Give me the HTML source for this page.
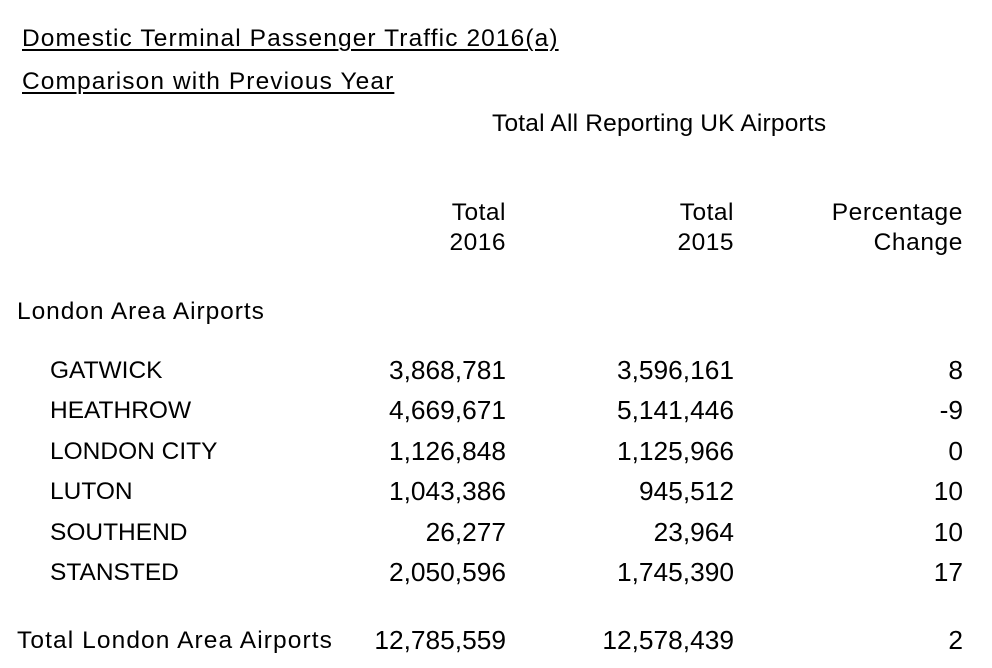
<!DOCTYPE html>
<html><head><meta charset="utf-8">
<style>
html,body{margin:0;padding:0;background:#fff;}
body{width:992px;height:668px;position:relative;overflow:hidden;font-family:"Liberation Sans",Arial,sans-serif;color:#000;font-size:24.5px;}
.t{position:absolute;line-height:30px;white-space:nowrap;}
.u{text-decoration:underline;text-decoration-thickness:1.5px;text-underline-offset:3px;}
.n{position:absolute;line-height:30px;white-space:nowrap;text-align:right;font-size:26.3px;}
.c1{right:486px}.c2{right:258px}.c3{right:29px}
</style></head><body>
<div class="t u" style="left:22px;top:24px;letter-spacing:1.1px">Domestic Terminal Passenger Traffic 2016(a)</div>
<div class="t u" style="left:22px;top:67px;letter-spacing:1.1px">Comparison with Previous Year</div>
<div class="t" style="left:492px;top:109px;letter-spacing:0.2px">Total All Reporting UK Airports</div>

<div class="t c1" style="top:198px;text-align:right;letter-spacing:0.5px">Total<br>2016</div>
<div class="t c2" style="top:198px;text-align:right;letter-spacing:0.5px">Total<br>2015</div>
<div class="t c3" style="top:198px;text-align:right;letter-spacing:0.6px">Percentage<br>Change</div>

<div class="t" style="left:17px;top:297px;letter-spacing:0.95px">London Area Airports</div>

<div class="t" style="left:50px;top:356px">GATWICK</div>
<div class="n c1" style="top:355px">3,868,781</div>
<div class="n c2" style="top:355px">3,596,161</div>
<div class="n c3" style="top:355px">8</div>

<div class="t" style="left:50px;top:396px">HEATHROW</div>
<div class="n c1" style="top:395px">4,669,671</div>
<div class="n c2" style="top:395px">5,141,446</div>
<div class="n c3" style="top:395px">-9</div>

<div class="t" style="left:50px;top:437px">LONDON CITY</div>
<div class="n c1" style="top:436px">1,126,848</div>
<div class="n c2" style="top:436px">1,125,966</div>
<div class="n c3" style="top:436px">0</div>

<div class="t" style="left:50px;top:477px">LUTON</div>
<div class="n c1" style="top:476px">1,043,386</div>
<div class="n c2" style="top:476px">945,512</div>
<div class="n c3" style="top:476px">10</div>

<div class="t" style="left:50px;top:518px">SOUTHEND</div>
<div class="n c1" style="top:517px">26,277</div>
<div class="n c2" style="top:517px">23,964</div>
<div class="n c3" style="top:517px">10</div>

<div class="t" style="left:50px;top:558px">STANSTED</div>
<div class="n c1" style="top:557px">2,050,596</div>
<div class="n c2" style="top:557px">1,745,390</div>
<div class="n c3" style="top:557px">17</div>

<div class="t" style="left:17px;top:626px;letter-spacing:1.1px">Total London Area Airports</div>
<div class="n c1" style="top:625px">12,785,559</div>
<div class="n c2" style="top:625px">12,578,439</div>
<div class="n c3" style="top:625px">2</div>
</body></html>
